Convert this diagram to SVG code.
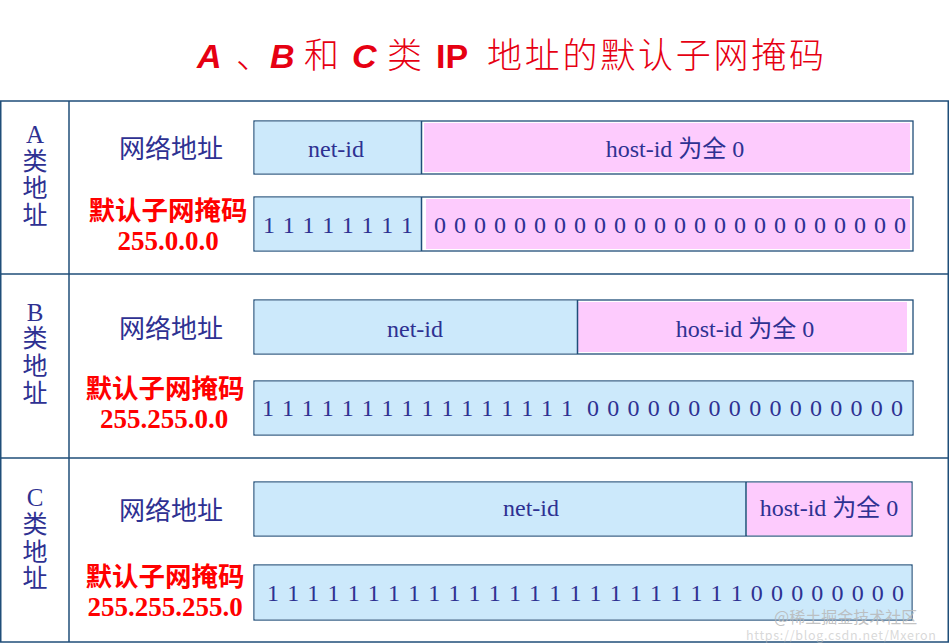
<svg xmlns="http://www.w3.org/2000/svg" width="950" height="644" viewBox="0 0 950 644">
<style>
.tl{fill:#e60012;font-family:"Liberation Sans","Noto Sans CJK SC",sans-serif;font-size:34px}
.tlb{font-weight:bold;font-style:italic}
.tc{fill:#e60012;font-family:"Noto Sans CJK SC",sans-serif;font-size:35px;font-weight:300}
.grid{fill:none;stroke:#1f4e79;stroke-width:1.5}
.cls{fill:#2e3192;font-family:"Liberation Serif","Noto Sans CJK SC",serif;font-size:25px;text-anchor:middle}
.lbl{fill:#2e3192;font-family:"Noto Sans CJK SC",sans-serif;font-size:26px;text-anchor:middle}
.msk{fill:#ff0000;font-family:"Noto Sans CJK SC",sans-serif;font-size:26.5px;font-weight:bold;text-anchor:middle}
.num{fill:#ff0000;font-family:"Liberation Serif",serif;font-size:27px;font-weight:bold;text-anchor:middle}
.box{fill:#ffffff;stroke:#1f4e79;stroke-width:1.3}
.blue{fill:#cce9fb}
.pink{fill:#fdcbfd}
.div{stroke:#1f4e79;stroke-width:1.5}
.t{fill:#2e3192;font-family:"Liberation Serif","Noto Sans CJK SC",serif;font-size:24px;text-anchor:middle}
.bits{fill:#2e3192;font-family:"Liberation Serif",serif;font-size:24px}
.wm{fill:#b8b8b8;font-family:"Noto Sans CJK SC",sans-serif}
</style>
<g id="title">
<text class="tl tlb" x="197" y="68">A</text>
<text class="tc" x="236" y="68">、</text>
<text class="tl tlb" x="270" y="68">B</text>
<text class="tc" x="304" y="68">和</text>
<text class="tl tlb" x="352" y="68">C</text>
<text class="tc" x="387" y="68">类</text>
<text class="tl" x="436" y="68" font-weight="bold">IP</text>
<text class="tc" x="487" y="68" textLength="337">地址的默认子网掩码</text>
</g>
<g id="table">
<rect class="grid" x="0.75" y="101" width="947.5" height="541"/>
<line class="grid" x1="0" y1="274" x2="949" y2="274"/>
<line class="grid" x1="0" y1="458" x2="949" y2="458"/>
<line class="grid" x1="69" y1="101" x2="69" y2="642"/>
</g>
<g id="rowA">
<text class="cls" x="35" y="143">A</text>
<text class="cls" x="35" y="170">类</text>
<text class="cls" x="35" y="197">地</text>
<text class="cls" x="35" y="224">址</text>
<text class="lbl" x="171" y="158">网络地址</text>
<text class="msk" x="168" y="220">默认子网掩码</text>
<text class="num" x="168" y="250">255.0.0.0</text>
</g>
<g id="A-net">
<rect class="box" x="254" y="121" width="659" height="53"/>
<rect class="blue" x="254.7" y="121.7" width="166.3" height="51.6"/>
<rect class="pink" x="424" y="123" width="486" height="49"/>
<line class="div" x1="421.5" y1="121" x2="421.5" y2="174"/>
<text class="t" x="336" y="157">net-id</text>
<text class="t" x="675" y="157">host-id 为全 0</text>
</g>
<g id="A-mask">
<rect class="box" x="254" y="197" width="659" height="54"/>
<rect class="blue" x="254.7" y="197.7" width="166.3" height="52.6"/>
<rect class="pink" x="426" y="199" width="484" height="50"/>
<line class="div" x1="421.5" y1="197" x2="421.5" y2="251"/>
<text class="bits" x="263" y="233" textLength="150">1 1 1 1 1 1 1 1</text>
<text class="bits" x="434" y="233" textLength="472">0 0 0 0 0 0 0 0 0 0 0 0 0 0 0 0 0 0 0 0 0 0 0 0</text>
</g>
<g id="rowB">
<text class="cls" x="35" y="321">B</text>
<text class="cls" x="35" y="347">类</text>
<text class="cls" x="35" y="375">地</text>
<text class="cls" x="35" y="402">址</text>
<text class="lbl" x="171" y="338">网络地址</text>
<text class="msk" x="165" y="398">默认子网掩码</text>
<text class="num" x="164" y="428">255.255.0.0</text>
</g>
<g id="B-net">
<rect class="box" x="254" y="300" width="659" height="54"/>
<rect class="blue" x="254.7" y="300.7" width="323" height="52.6"/>
<rect class="pink" x="578" y="302" width="329" height="50"/>
<line class="div" x1="577.5" y1="300" x2="577.5" y2="354"/>
<text class="t" x="415" y="337">net-id</text>
<text class="t" x="745" y="337">host-id 为全 0</text>
</g>
<g id="B-mask">
<rect class="box" x="254" y="381" width="659" height="54"/>
<rect class="blue" x="254.7" y="381.7" width="657.6" height="52.6"/>
<text class="bits" x="262" y="416" textLength="311">1 1 1 1 1 1 1 1 1 1 1 1 1 1 1 1</text>
<text class="bits" x="587" y="416" textLength="316">0 0 0 0 0 0 0 0 0 0 0 0 0 0 0 0</text>
</g>
<g id="rowC">
<text class="cls" x="35" y="506">C</text>
<text class="cls" x="35" y="533">类</text>
<text class="cls" x="35" y="561">地</text>
<text class="cls" x="35" y="587">址</text>
<text class="lbl" x="171" y="520">网络地址</text>
<text class="msk" x="165" y="586">默认子网掩码</text>
<text class="num" x="165" y="616">255.255.255.0</text>
</g>
<g id="C-net">
<rect class="box" x="254" y="482" width="658" height="54"/>
<rect class="blue" x="254.7" y="482.7" width="491.3" height="52.6"/>
<rect class="pink" x="747" y="482.7" width="164.3" height="52.6"/>
<line class="div" x1="746" y1="482" x2="746" y2="536" stroke-width="2"/>
<text class="t" x="531" y="516">net-id</text>
<text class="t" x="829" y="516">host-id 为全 0</text>
</g>
<g id="C-mask">
<rect class="box" x="254" y="565" width="658" height="55"/>
<rect class="blue" x="254.7" y="565.7" width="656.6" height="53.6"/>
<text class="bits" x="267" y="601" textLength="637">1 1 1 1 1 1 1 1 1 1 1 1 1 1 1 1 1 1 1 1 1 1 1 1 0 0 0 0 0 0 0 0</text>
</g>
<g id="watermark">
<text class="wm" x="774" y="623" font-size="16" fill-opacity="0.85">@稀土掘金技术社区</text>
<text class="wm" x="746" y="640" font-size="12.5" fill-opacity="0.55" textLength="190">https://blog.csdn.net/Mxeron</text>
</g>
</svg>
